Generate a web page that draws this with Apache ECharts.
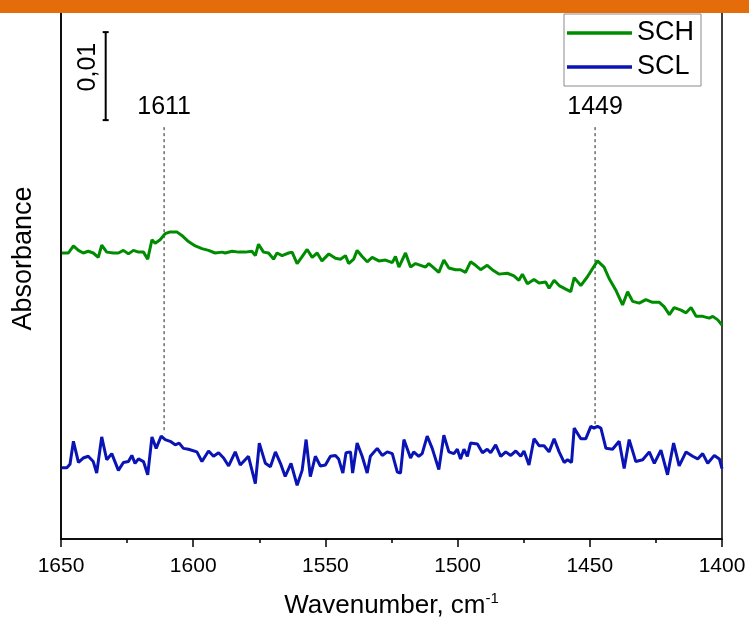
<!DOCTYPE html>
<html><head><meta charset="utf-8">
<script src="https://cdn.jsdelivr.net/npm/echarts@6/dist/echarts.min.js"></script>
<style>html,body{margin:0;padding:0;background:#fff}#c{width:749px;height:626px}</style>
</head><body><div id="c"></div><script>
// Wavenumber (cm-1) and absorbance values
const schWn = [1649.7,1647.2,1645.3,1643.4,1641.6,1639.7,1637.8,1635.9,1634.6,1632.7,1630.2,1628.3,1626.4,1624.5,1622.6,1620.7,1618.8,1617.2,1615.6,1614.4,1612.5,1610.6,1608.7,1606.2,1604.3,1601.8,1599.2,1596.7,1594.2,1591.7,1589.1,1587.9,1585.3,1582.8,1580.3,1577.8,1576.5,1575.3,1573.4,1571.5,1569.6,1568.3,1566.4,1563.9,1562.6,1560.7,1558.8,1556.9,1555.0,1553.1,1551.3,1548.7,1546.2,1544.3,1542.4,1541.2,1539.3,1538.0,1536.1,1534.2,1532.3,1529.8,1527.3,1524.7,1523.5,1522.2,1519.7,1517.8,1515.9,1514.0,1512.1,1510.9,1509.0,1507.1,1505.2,1503.3,1500.8,1498.9,1497.0,1495.1,1493.2,1491.3,1488.8,1486.9,1484.4,1481.2,1478.7,1476.8,1475.5,1473.6,1471.1,1469.2,1466.7,1465.4,1463.5,1461.6,1459.1,1457.2,1455.9,1453.4,1450.9,1447.1,1444.6,1442.7,1440.2,1437.6,1435.7,1433.8,1431.3,1428.8,1426.3,1423.7,1421.9,1419.9,1418.1,1415.5,1413.6,1411.7,1409.8,1407.3,1404.8,1403.5,1401.6,1400.0];
const schAbs = [0.0325,0.0325,0.0333,0.0328,0.0325,0.0327,0.0325,0.0320,0.0334,0.0326,0.0325,0.0325,0.0328,0.0324,0.0328,0.0326,0.0326,0.0318,0.0340,0.0336,0.0340,0.0347,0.0349,0.0349,0.0345,0.0338,0.0333,0.0330,0.0328,0.0325,0.0326,0.0325,0.0327,0.0326,0.0326,0.0327,0.0322,0.0335,0.0326,0.0325,0.0318,0.0325,0.0322,0.0325,0.0326,0.0313,0.0321,0.0329,0.0320,0.0325,0.0316,0.0324,0.0319,0.0318,0.0322,0.0313,0.0318,0.0328,0.0321,0.0315,0.0320,0.0316,0.0317,0.0314,0.0321,0.0309,0.0325,0.0309,0.0313,0.0311,0.0309,0.0313,0.0308,0.0303,0.0317,0.0308,0.0306,0.0306,0.0303,0.0315,0.0311,0.0306,0.0311,0.0306,0.0301,0.0302,0.0299,0.0294,0.0301,0.0290,0.0295,0.0291,0.0292,0.0285,0.0294,0.0288,0.0284,0.0281,0.0297,0.0288,0.0298,0.0316,0.0309,0.0296,0.0283,0.0266,0.0281,0.0270,0.0268,0.0272,0.0269,0.0269,0.0264,0.0255,0.0263,0.0260,0.0257,0.0263,0.0253,0.0253,0.0251,0.0253,0.0249,0.0243];
const sclWn = [1649.7,1647.8,1646.6,1645.3,1643.4,1641.6,1639.7,1637.8,1636.5,1634.6,1632.7,1630.8,1628.3,1626.4,1624.5,1623.2,1622.0,1620.7,1618.8,1617.2,1615.6,1614.0,1612.1,1610.6,1608.7,1606.8,1605.3,1603.7,1601.8,1598.6,1596.7,1594.2,1592.3,1590.4,1588.5,1586.6,1584.1,1582.2,1579.1,1576.5,1575.0,1572.7,1570.8,1568.9,1567.0,1565.2,1563.0,1560.7,1558.8,1557.3,1555.7,1553.8,1551.9,1550.0,1548.1,1546.2,1545.0,1543.4,1542.2,1540.5,1539.7,1538.0,1536.1,1534.2,1533.0,1530.4,1528.5,1526.6,1524.7,1522.8,1521.6,1520.3,1517.8,1516.6,1514.7,1513.4,1511.5,1509.6,1507.1,1505.2,1503.3,1501.4,1500.1,1498.9,1497.6,1496.3,1495.1,1492.5,1490.6,1488.8,1487.5,1485.6,1483.7,1481.8,1479.9,1478.0,1476.1,1474.9,1473.0,1471.1,1469.2,1467.3,1465.4,1463.5,1461.6,1459.7,1458.4,1456.9,1455.9,1453.4,1451.5,1449.6,1448.4,1447.1,1445.8,1443.9,1441.4,1438.9,1437.0,1435.1,1432.6,1430.0,1427.5,1425.6,1423.1,1420.6,1418.3,1416.2,1413.6,1411.1,1409.2,1407.3,1405.4,1402.9,1401.0,1400.0];
const sclAbs = [0.0081,0.0081,0.0085,0.0111,0.0087,0.0092,0.0094,0.0088,0.0075,0.0116,0.0090,0.0097,0.0078,0.0087,0.0088,0.0095,0.0086,0.0091,0.0088,0.0073,0.0116,0.0103,0.0117,0.0113,0.0111,0.0107,0.0109,0.0103,0.0102,0.0099,0.0088,0.0100,0.0094,0.0098,0.0092,0.0083,0.0099,0.0084,0.0094,0.0063,0.0109,0.0086,0.0082,0.0099,0.0086,0.0071,0.0086,0.0061,0.0078,0.0113,0.0071,0.0094,0.0083,0.0084,0.0094,0.0095,0.0091,0.0075,0.0098,0.0099,0.0075,0.0109,0.0094,0.0075,0.0094,0.0103,0.0095,0.0099,0.0097,0.0076,0.0075,0.0113,0.0092,0.0099,0.0094,0.0097,0.0117,0.0103,0.0079,0.0118,0.0099,0.0097,0.0102,0.0091,0.0102,0.0094,0.0109,0.0108,0.0098,0.0102,0.0098,0.0107,0.0094,0.0099,0.0095,0.0100,0.0094,0.0100,0.0084,0.0114,0.0106,0.0106,0.0099,0.0114,0.0099,0.0087,0.0090,0.0087,0.0126,0.0114,0.0114,0.0128,0.0126,0.0128,0.0126,0.0103,0.0102,0.0111,0.0080,0.0113,0.0088,0.0090,0.0099,0.0086,0.0101,0.0073,0.0109,0.0083,0.0099,0.0094,0.0091,0.0097,0.0086,0.0095,0.0091,0.0080];
// peak annotations: position, label, dashed line top and bottom (absorbance)
const peakWn = [1611, 1448];
const peakLabels = ['1611', '1449'];
const peakTop = [0.0468, 0.0468];
const peakBottom = [0.0120, 0.0127];
// scale bar (0,01 absorbance units)
const scaleBar = [[1633.1, 0.0476, 0.0576]];
const xTicks = {min: 1400, max: 1650, interval: 50};

const FONT = "'Liberation Sans', Arial, sans-serif";
const chart = echarts.init(document.getElementById('c'), null, {renderer: 'canvas'});
const zip = (a, b) => a.map((v, i) => [v, b[i]]);

chart.setOption({
  animation: false,
  backgroundColor: '#fff',
  textStyle: {fontFamily: FONT},
  grid: {left: 61, right: 27, top: 0, bottom: 87, show: true, borderColor: '#000', borderWidth: 1.5, backgroundColor: 'transparent'},
  legend: {
    data: ['SCH', 'SCL'], orient: 'vertical', left: 564, top: 14,
    borderColor: '#8a8a8a', borderWidth: 1, padding: [4, 7, 4, 3],
    itemGap: 4, itemWidth: 65, itemHeight: 3.5, itemTextGap: 5, icon: 'rect',
    textStyle: {fontSize: 27, lineHeight: 30, color: '#000', fontFamily: FONT}
  },
  xAxis: {
    type: 'value', inverse: true, min: xTicks.min, max: xTicks.max, interval: xTicks.interval,
    name: 'Wavenumber, cm{sup|-1}', nameLocation: 'middle', nameGap: 52,
    nameTextStyle: {fontSize: 26, color: '#000', fontFamily: FONT,
      rich: {sup: {fontSize: 15, verticalAlign: 'top', padding: [0, 0, 14, 0], color: '#000', fontFamily: FONT}}},
    axisLine: {lineStyle: {color: '#000', width: 1.5}},
    axisTick: {show: true, inside: false, length: 8, lineStyle: {color: '#000', width: 1.5}},
    minorTick: {show: true, splitNumber: 2, length: 4, lineStyle: {color: '#000', width: 1.5}},
    axisLabel: {fontSize: 21, color: '#000', margin: 17, fontFamily: FONT, showMinLabel: true, showMaxLabel: true,
      formatter: v => String(v)},
    splitLine: {show: false}
  },
  yAxis: {
    type: 'value', min: 0, max: 0.06125,
    name: 'Absorbance', nameLocation: 'middle', nameGap: 24,
    nameTextStyle: {fontSize: 27, color: '#000', fontFamily: FONT, padding: [0, 0, 0, 22]},
    axisLine: {show: true, lineStyle: {color: '#000', width: 1.5}},
    axisTick: {show: false}, axisLabel: {show: false}, splitLine: {show: false}
  },
  series: [
    {name: 'SCH', type: 'line', data: zip(schWn, schAbs), showSymbol: false, symbol: 'none',
      lineStyle: {color: '#008c00', width: 3}, itemStyle: {color: '#008c00'}, z: 3},
    {name: 'SCL', type: 'line', data: zip(sclWn, sclAbs), showSymbol: false, symbol: 'none',
      lineStyle: {color: '#0a14b4', width: 3}, itemStyle: {color: '#0a14b4'}, z: 3},
    {name: 'peaks', type: 'custom', clip: false, z: 2,
      data: peakWn.map((w, i) => [w, peakTop[i], peakBottom[i], i]),
      renderItem: (params, api) => {
        const top = api.coord([api.value(0), api.value(1)]);
        const bot = api.coord([api.value(0), api.value(2)]);
        return {type: 'group', children: [
          {type: 'line', shape: {x1: top[0], y1: top[1], x2: bot[0], y2: bot[1]},
            style: {stroke: '#555', lineWidth: 1.3, lineDash: [3, 3]}},
          {type: 'text', x: top[0], y: top[1] - 8,
            style: {text: peakLabels[api.value(3)], fill: '#000', font: '25px ' + FONT, align: 'center', verticalAlign: 'bottom'}}
        ]};
      }
    },
    {name: 'scale', type: 'custom', clip: false, z: 2,
      data: scaleBar,
      renderItem: (params, api) => {
        const a = api.coord([api.value(0), api.value(1)]);
        const b = api.coord([api.value(0), api.value(2)]);
        const x = a[0];
        return {type: 'group', children: [
          {type: 'line', shape: {x1: x, y1: a[1], x2: x, y2: b[1]}, style: {stroke: '#000', lineWidth: 2}},
          {type: 'line', shape: {x1: x - 3, y1: a[1], x2: x + 3, y2: a[1]}, style: {stroke: '#000', lineWidth: 2}},
          {type: 'line', shape: {x1: x - 3, y1: b[1], x2: x + 3, y2: b[1]}, style: {stroke: '#000', lineWidth: 2}},
          {type: 'text', x: x - 18, y: (a[1] + b[1]) / 2 - 9, rotation: Math.PI / 2,
            style: {text: '0,01', fill: '#000', font: '25px ' + FONT, align: 'center', verticalAlign: 'middle'}}
        ]};
      }
    }
  ],
  graphic: [
    {type: 'rect', left: 0, top: 0, shape: {width: 749, height: 13}, style: {fill: '#e46c0a'}, z: 100}
  ]
});
</script></body></html>
